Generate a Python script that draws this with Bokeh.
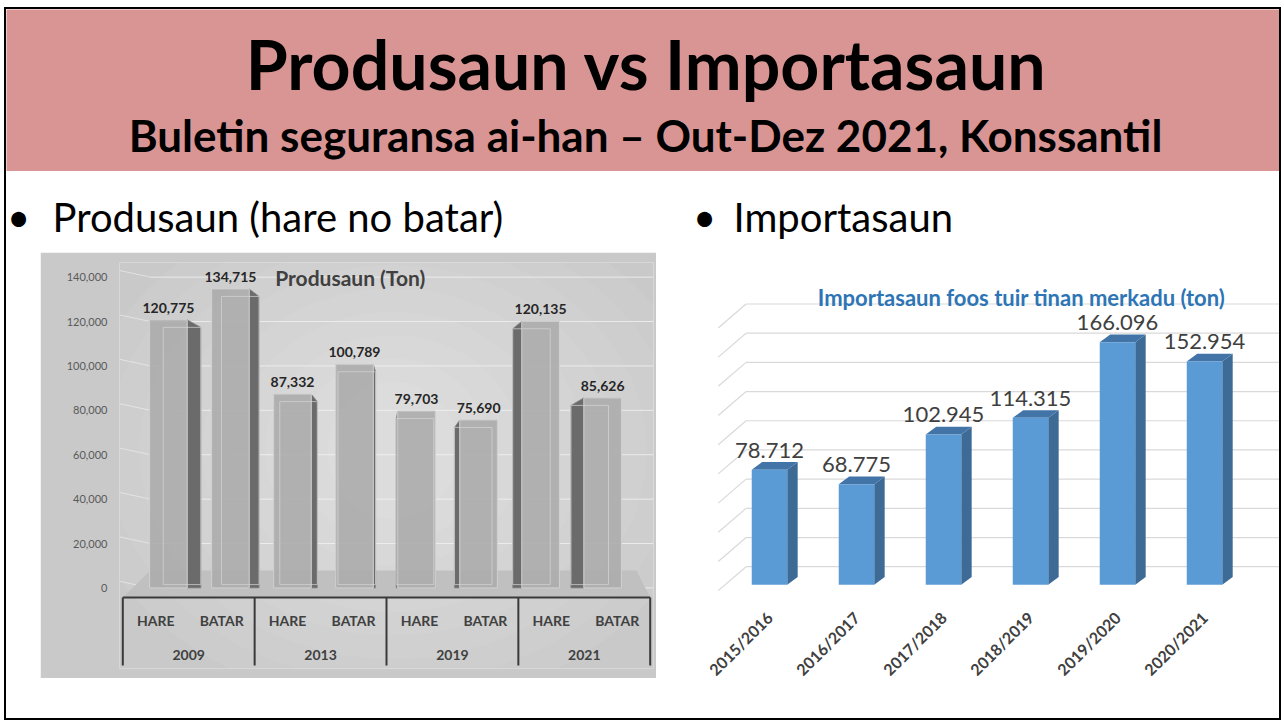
import math
from bokeh.plotting import figure
from bokeh.models import Range1d, FixedTicker, NumeralTickFormatter, Label, Spacer
from bokeh.layouts import column, row
from bokeh.embed import file_html
from bokeh.resources import INLINE
from bokeh.core.properties import value

# ---------------- data ----------------
slide_title = "Produsaun vs Importasaun"
slide_subtitle = "Buletin seguransa ai-han \u2013 Out-Dez 2021, Konssantil"
bullet_left = "Produsaun (hare no batar)"
bullet_right = "Importasaun"

prod_title = "Produsaun (Ton)"
prod_years = ["2009", "2013", "2019", "2021"]
prod_types = ["HARE", "BATAR"]
prod_values = [120775, 134715, 87332, 100789, 79703, 75690, 120135, 85626]
prod_ticks = [0, 20000, 40000, 60000, 80000, 100000, 120000, 140000]

imp_title = "Importasaun foos tuir tinan merkadu (ton)"
imp_seasons = ["2015/2016", "2016/2017", "2017/2018", "2018/2019", "2019/2020", "2020/2021"]
imp_values = [78712, 68775, 102945, 114315, 166096, 152954]
imp_grid = [0, 20000, 40000, 60000, 80000, 100000, 120000, 140000, 160000, 180000]

# ---------------- style ----------------
FONT = value("Lato")
PINK = "#D99594"
DARK = "#404040"
W = 1273          # inner width of the slide
H_HDR = 162
H_BUL = 81
LEFT_W = 674
RIGHT_W = W - LEFT_W


def blank(width, height, bg="white"):
    p = figure(width=width, height=height, x_range=Range1d(0, width), y_range=Range1d(height, 0),
               output_backend="svg", toolbar_location=None, min_border=0,
               x_axis_location=None, y_axis_location=None, frame_align=False,
               background_fill_color=bg, border_fill_color=bg, outline_line_color=None)
    p.grid.visible = False
    return p


# ---------------- header ----------------
hdr = blank(W, H_HDR, PINK)
hdr.text(x=[640], y=[54], text=[slide_title], text_font=FONT, text_font_style="bold",
         text_font_size="68px", text_align="center", text_baseline="middle", text_color="black")
hdr.text(x=[639], y=[125], text=[slide_subtitle], text_font=FONT, text_font_style="bold",
         text_font_size="44px", text_align="center", text_baseline="middle", text_color="black")

# ---------------- bullets ----------------
def bullet_fig(width, bx, tx, txt):
    p = blank(width, H_BUL)
    p.text(x=[bx], y=[45], text=["\u2022"], text_font=FONT, text_font_size="40px",
           text_align="center", text_baseline="middle", text_color="black")
    p.text(x=[tx], y=[45], text=[txt], text_font=FONT, text_font_size="40px",
           text_align="left", text_baseline="middle", text_color="black")
    return p


bul_l = bullet_fig(LEFT_W, 12, 46, bullet_left)
bul_r = bullet_fig(RIGHT_W, 24, 53, bullet_right)

# ---------------- left chart: Produsaun ----------------
EDGE_BG = "#C9C9C9"
pc = figure(width=616, height=426, x_range=Range1d(-0.05, 8.05), y_range=Range1d(-36300, 146600),
            output_backend="svg", toolbar_location=None, x_axis_location=None, frame_align=False,
            min_border_left=79, min_border_right=3, min_border_top=10, min_border_bottom=10,
            background_fill_color=EDGE_BG, border_fill_color=EDGE_BG, outline_line_color=None)
pc.yaxis.ticker = FixedTicker(ticks=prod_ticks)
pc.yaxis.formatter = NumeralTickFormatter(format="0,0")
pc.yaxis.axis_line_color = None
pc.yaxis.major_tick_line_color = None
pc.yaxis.minor_tick_line_color = None
pc.yaxis.major_label_text_font = "Lato"
pc.yaxis.major_label_text_font_size = "11px"
pc.yaxis.major_label_text_color = "#595959"
pc.yaxis.major_label_standoff = 6
pc.xgrid.visible = False
pc.ygrid.visible = False

# soft radial light in the middle of the chart area (gradient look)
for k in range(9):
    pc.ellipse(x=[4.1], y=[62000], width=[9.6 - k * 0.95], height=[230000 - k * 21000],
               fill_color="white", fill_alpha=0.055, line_color=None)

# back-wall gridlines
pc.segment(x0=[0.42] * len(prod_ticks), y0=prod_ticks, x1=[8.05] * len(prod_ticks), y1=prod_ticks,
           line_color="#F2F2F2", line_alpha=0.8, line_width=1)
pc.segment(x0=[-0.05] * len(prod_ticks), y0=[t + 3000 for t in prod_ticks],
           x1=[0.42] * len(prod_ticks), y1=prod_ticks,
           line_color="#F2F2F2", line_alpha=0.6, line_width=1)

n = len(prod_values)
factors = [(y, t) for y in prod_years for t in prod_types]
sub_x = [i + 0.5 for i in range(n)]
grp_x = [2 * j + 1 for j in range(len(prod_years))]
# perspective: bars slightly compressed toward the centre of the floor
bar_x = [3.985 + (i - 3.5) * 0.941 for i in range(n)]
half = 0.285
table_top, table_bot = -4280, -34900

# floor
pc.patch(x=[0, 8, 7.79, 0.42], y=[table_top, table_top, 7900, 7900], fill_color="#C0C0C0",
         line_color=None)

side_xs, side_ys, back_xs, back_ys = [], [], [], []
for i, v in enumerate(prod_values):
    dx = 0.0577 * (3.6 - i)
    edge = bar_x[i] + half if dx >= 0 else bar_x[i] - half
    side_xs.append([edge, edge + dx, edge + dx, edge])
    side_ys.append([0, 0, v - 3400, v])
    bl, br = bar_x[i] - half + dx, bar_x[i] + half + dx
    back_xs.append([bl, br, br, bl, bl])
    back_ys.append([1500, 1500, v - 3400, v - 3400, 1500])
pc.patches(xs=side_xs, ys=side_ys, fill_color="#6B6B6B", line_color="#8A8A8A", line_width=0.8)
pc.vbar(x=bar_x, top=prod_values, bottom=0, width=2 * half, fill_color="#ADADAD",
        fill_alpha=0.92, line_color="#D0D0D0", line_width=1)
pc.multi_line(xs=back_xs, ys=back_ys, line_color="#D6D6D6", line_alpha=0.7, line_width=1)

pc.text(x=bar_x, y=prod_values, text=[f"{v:,}" for v in prod_values], text_font=FONT,
        text_font_style="bold", text_font_size="14px", text_align="center",
        text_baseline="middle", y_offset=-12, text_color="#262626")

# category table
pc.segment(x0=[0], y0=[table_top], x1=[8], y1=[table_top], line_color="#3A3A3A", line_width=2)
pc.segment(x0=[0, 2, 4, 6, 8], y0=[table_top] * 5, x1=[0, 2, 4, 6, 8], y1=[table_bot] * 5,
           line_color="#3A3A3A", line_width=2)
pc.text(x=sub_x, y=[-14900] * n, text=[f[1] for f in factors], text_font=FONT,
        text_font_style="bold", text_font_size="14px", text_align="center",
        text_baseline="middle", text_color=DARK)
pc.text(x=grp_x, y=[-30400] * len(prod_years), text=prod_years, text_font=FONT,
        text_font_style="bold", text_font_size="14px", text_align="center",
        text_baseline="middle", text_color=DARK)
pc.add_layout(Label(x=3.45, y=140000, text=prod_title, text_font="Lato", text_font_style="bold",
                    text_font_size="21px", text_color=DARK, text_align="center",
                    text_baseline="middle"))

# ---------------- right chart: Importasaun ----------------
IX_END = 6.362
IC_H = 709 - H_HDR - H_BUL
ic = figure(width=RIGHT_W, height=IC_H, x_range=Range1d(-0.109, IX_END),
            y_range=Range1d(-8100, 208400), frame_align=False,
            output_backend="svg", toolbar_location=None, y_axis_location=None,
            min_border_left=36, min_border_right=0, min_border_top=28,
            min_border_bottom=IC_H - 28 - 316,
            background_fill_color="white", border_fill_color="white", outline_line_color=None)
ic.grid.visible = False
m = len(imp_values)
cx = [i + 0.5 for i in range(m)]
ic.xaxis.ticker = FixedTicker(ticks=cx)
ic.xaxis.major_label_overrides = {c: s for c, s in zip(cx, imp_seasons)}
ic.xaxis.major_label_orientation = math.pi / 4
ic.xaxis.axis_line_color = None
ic.xaxis.major_tick_line_color = None
ic.xaxis.minor_tick_line_color = None
ic.xaxis.major_label_text_font = "Lato"
ic.xaxis.major_label_text_font_style = "bold"
ic.xaxis.major_label_text_font_size = "16px"
ic.xaxis.major_label_text_color = DARK
ic.xaxis.major_label_standoff = 12

back = 12300
ic.segment(x0=[0.231] * len(imp_grid), y0=[g + back for g in imp_grid],
           x1=[IX_END] * len(imp_grid), y1=[g + back for g in imp_grid],
           line_color="#D9D9D9", line_width=1.2)
ic.segment(x0=[-0.089] * len(imp_grid), y0=[g - 4100 for g in imp_grid],
           x1=[0.231] * len(imp_grid), y1=[g + back for g in imp_grid],
           line_color="#D9D9D9", line_width=1.2)

bw = 0.204
ddx, ddy = 0.12, 5270
side_xs = [[c + bw, c + bw + ddx, c + bw + ddx, c + bw] for c in cx]
side_ys = [[0, ddy, v + ddy, v] for v in imp_values]
top_xs = [[c - bw, c - bw + ddx, c + bw + ddx, c + bw] for c in cx]
top_ys = [[v, v + ddy, v + ddy, v] for v in imp_values]
ic.patches(xs=side_xs, ys=side_ys, fill_color="#3E6B96", line_color=None)
ic.patches(xs=top_xs, ys=top_ys, fill_color="#4274A8", line_color=None)
ic.vbar(x=cx, top=imp_values, bottom=0, width=2 * bw, fill_color="#5B9BD5", line_color=None)

ic.text(x=cx, y=[v + ddy for v in imp_values],
        text=[f"{v:,}".replace(",", ".") for v in imp_values], text_font=FONT,
        text_font_size="22px", text_align="center", text_baseline="middle", y_offset=-12,
        text_color=DARK)
ic.add_layout(Label(x=3.397, y=196900, text=imp_title, text_font="Lato", text_font_style="bold",
                    text_font_size="22px", text_color="#2E75B6", text_align="center",
                    text_baseline="middle"))

# ---------------- layout ----------------
left_col = column(bul_l, row(Spacer(width=34, height=426), pc, Spacer(width=24, height=426)),
                  Spacer(width=LEFT_W, height=709 - H_HDR - H_BUL - 426))
right_col = column(bul_r, ic)
slide = column(hdr, row(left_col, right_col), styles={"border": "2px solid black"})
page = column(Spacer(width=1281, height=7), row(Spacer(width=4, height=713), slide))

open("out.html", "w").write(file_html(page, INLINE))
